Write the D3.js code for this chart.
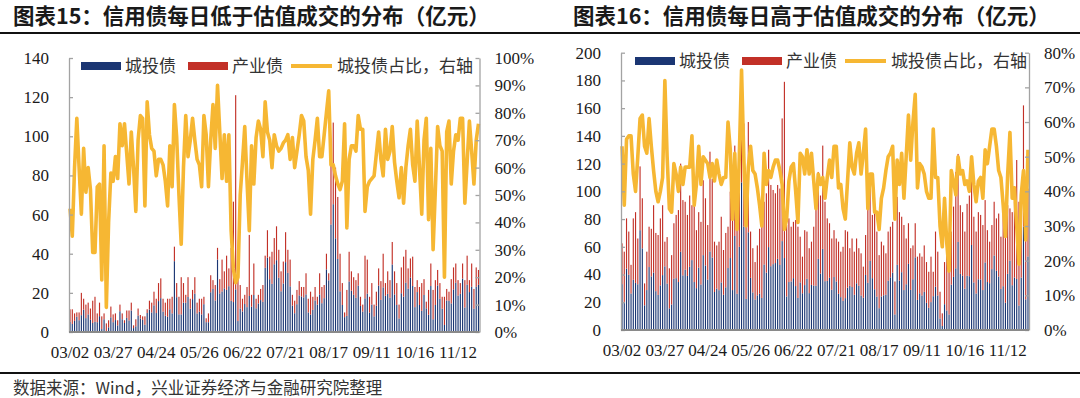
<!DOCTYPE html>
<html>
<head>
<meta charset="utf-8">
<script src="https://cdn.jsdelivr.net/npm/d3@7"></script>
<style>
  body { margin: 0; background: #fff; }
  svg { display: block; }
  .num { font-family: "Liberation Serif", "Times New Roman", serif; font-size: 17px; fill: #1a1a1a; }
  .cjk { font-family: "Noto Sans CJK SC", sans-serif; }
</style>
</head>
<body>
<div id="chart"></div>
<script>
// x labels, one every 19 trading days starting 03/02
var tickLabels = ["03/02", "03/27", "04/24", "05/26", "06/22", "07/21", "08/17", "09/11", "10/16", "11/12"];
var seriesNames = ["城投债", "产业债", "城投债占比，右轴"];

// 图表15: below valuation (亿元, share in %)
var lowUrban = [
  5.2,4.1,5.7,7.8,6,8.6,11.4,7.1,9,6.2,
  4.6,5.2,5,8.1,1.5,6.5,0.4,2.4,7.5,5,
  6.1,3.4,10.6,6.5,4.6,7.2,5.9,11,2,2.9,
  8.4,6.9,6.2,3.7,9.7,11.5,10,13.6,9.7,15.8,
  17.3,10.4,8.3,7.8,11.6,9.5,36.2,17.8,9,9,
  15,15,17.9,11.9,16.8,19.6,9.5,10.4,9,14.2,
  5,5,20.3,22,16.1,37,19.7,20.7,22.3,21.5,
  23.4,15.9,15.3,21.8,5.6,12,10.5,14.3,12.7,18.4,
  12.9,18.9,12.1,14.6,16.3,15.4,32.8,38,27,24.6,
  34.6,36.7,27.7,20.8,24.8,35.7,30.2,23.3,13.5,9.6,
  14.2,18.7,18.2,17.7,19.2,10,8.9,11.3,16.1,14,
  19.2,14.7,17.3,32,26.4,54.9,65.3,47.9,37.3,20.8,
  13.8,7.6,8.2,25.8,21.1,19,17.5,23.7,13.3,10.4,
  17.2,19.6,9.9,14,8,13.4,23.7,16.4,22.8,18.5,
  19.5,17.5,34.5,19.2,13.8,6.9,19.8,18.1,25.2,22.1,
  27.8,23.5,12.7,20.4,13.8,10.8,18.9,12.1,8.8,23.5,
  6.5,13.8,23.8,17,11.9,3.6,16.1,15.9,14.6,21.8,
  25.2,18.6,19.5,27.3,12.5,24.2,20.4,23.1,11.9,23.1,
  24.1];
var lowIndustry = [
  6.4,7.5,3.8,2.2,4,11.4,5.6,6.9,6,5.8,
  11.4,12.8,4.5,6.9,6.5,3,4,3.6,5.5,4,
  3.4,2.6,3.4,3,1.4,3.8,5.1,4,1.4,3.6,
  3.6,1.8,1.8,4.3,1.9,4.5,5,7,7.3,9.2,
  10.1,6.6,6.7,9.2,5.4,8.5,7.4,7.2,9,19,
  10,4,10.1,5.1,4.7,8.4,5.5,6.6,8,3.8,
  2,4.5,8.7,4.5,7.9,6,7.3,16.3,8.7,17.5,
  9.1,27.1,51.3,99.2,22.4,12,6.5,4.7,10.3,31.2,
  6.1,16.1,4.9,4.4,5.7,8.6,6.2,14,11.5,16.4,
  13.4,17.3,14.3,10.2,11.2,15.3,11.8,13.7,5.5,6.4,
  7.3,7.3,4.8,5.3,10.8,7,11.7,6.7,6.9,4,
  10.8,8.3,6.7,8,3.6,35.1,41.7,36.1,31.7,19.2,
  11.2,2.4,13.3,15.2,9.9,9,9,6.3,4.7,3.6,
  21.8,17.4,8.1,11,6,7.2,8.8,9.6,17.2,6.5,
  11.5,9,11.5,11.8,11.2,7.1,13.2,20.4,16.8,10.4,
  9.8,15,10.3,6.1,9.2,14.2,8.1,3.4,12.7,11.5,
  15,12.7,7.9,8,6.1,14.4,5.9,4.7,12.4,11.2,
  9.8,7.9,5.5,7.7,14,14.8,6.1,11.9,10.1,9.9,
  7.6];
var lowShare = [
  45,35,60,78,60,43,67,51,60,52,
  29,29,53,54,19,68,9,40,58,55,
  64,56,76,68,76,65,54,73,60,44,
  70,79,78,46,84,72,67,66,57,63,
  63,61,55,46,68,53,83,71,50,32,
  60,79,64,70,78,70,63,61,53,79,
  72,53,70,83,67,90,73,56,72,55,
  72,37,23,18,20,50,62,75,55,37,
  68,54,71,77,74,64,84,73,70,60,
  72,68,66,67,69,70,72,63,71,60,
  66,72,79,77,64,59,43,63,70,78,
  64,64,72,80,88,61,61,57,54,52,
  55,76,38,63,68,68,66,79,74,74,
  44,53,55,56,57,65,73,63,57,74,
  63,66,75,62,55,49,60,47,60,68,
  74,61,55,77,60,43,70,78,41,67,
  30,52,75,68,66,20,73,77,54,66,
  72,70,78,78,47,62,77,66,54,70,
  76];

// 图表16: above valuation
var highUrban = [
  33.1,20.3,44.3,39.8,26.3,36.2,34,33,72,58.9,
  17.8,28.8,45.4,38.7,41.4,28,25.3,32.2,39.6,45.9,
  33.5,15.6,18.4,37,37.4,34.6,56.4,39.4,43.5,39,
  45.6,50.4,34.6,30.2,45,32.8,54,46.6,36.3,56.6,
  52.3,27.4,29.9,28.7,34.3,25.4,30.8,44.7,51.9,28.8,
  67.8,26.1,60,106.5,74.5,22.4,70.5,37.6,27.1,22,
  25,26.3,23.1,47.2,41.4,59.8,46,47.5,48.3,51.3,
  46.9,64.1,51.9,24.2,34.6,35,37.4,31.7,23.1,34.3,
  26.5,32.4,36.9,26.6,32.5,32,31.9,51.3,40.7,58.5,
  35.2,35.4,37.7,29,38.2,35,26.1,23.7,21,23,
  30.5,31.9,31,25.4,33.7,31.9,24.9,23.3,39.7,34,
  49.8,37.4,29.4,24.1,15.7,24.2,25,25.4,35.5,38,
  41.3,11.2,47,35.7,41.7,28.8,33,47.7,28.9,36.6,
  52.4,21.7,26.5,24.9,27.5,19.6,16,20.1,24.4,31.2,
  24.9,8.3,2.9,18.6,14.1,11.2,32.7,38.3,44.5,63.5,
  40.5,39.1,29.8,39.1,38.8,61.3,34.3,26.3,36.6,36.5,
  28.8,48.7,34.6,33.8,43.9,53.7,42.7,38.6,29.6,31.6,
  19.7,40.5,50,32.3,37.9,36.8,17.6,37.8,74.5,22.1,
  53];
var highIndustry = [
  29.4,36.2,36.2,31.2,20.7,44.3,51,33,46,36.1,
  15.8,27.7,29.1,34.3,48.6,42,43.2,48.3,50.4,17.8,
  33.5,28.9,35.6,40,45.6,51.9,63.6,54.3,49,44,
  51.4,39.6,61.4,41.8,40,45.2,54,48.4,39.4,72,
  56.7,36.3,31.1,35,47.4,32.3,39.2,29.8,47.9,61.2,
  65.2,63.9,60,35.5,74.5,52.1,79.5,33.4,31.9,27,
  36,46.7,53.9,45.3,57.2,70.2,58.6,53.5,50.3,53.3,
  55.1,88.5,127.1,51.5,45.9,39.5,40.6,47.6,51.4,33,
  26.4,39.6,34.1,32.4,31.2,42.5,59.1,62.7,56.3,74.5,
  57.3,45.1,39.3,37,33.8,31,37.6,32.8,39,49,
  40.5,27.1,35,31.1,32.3,27.1,30.4,22.4,28.8,63,
  60.8,45.6,57.1,46.9,38.3,39.5,36,29.9,35.5,36.5,
  36.7,23.8,49,49.3,40,46.9,33,29.3,30.1,24.4,
  24.6,31.2,28.8,28,33.5,29.4,26,32.8,17.6,39.8,
  31.6,19.3,9.1,30.4,42.4,54.8,38.3,50.7,69.5,63.5,
  49.5,45.9,41.2,51.9,58.2,61.3,47.4,44.7,48.4,46.5,
  46.9,45,37.4,29.9,31.8,38.8,37.8,45.4,37.7,56.1,
  53.3,49.5,37.7,52.7,54.6,85.8,74.9,59.2,87.5,62.9,
  49];
var highShare = [
  53,36,55,56,56,45,40,50,61,62,
  53,51,61,53,46,40,37,40,44,72,
  50,35,34,48,45,40,47,42,47,47,
  47,56,36,42,53,42,50,49,48,44,
  48,43,49,45,42,44,44,60,52,32,
  51,29,50,75,50,30,47,53,46,45,
  41,36,30,51,42,46,44,47,49,49,
  46,42,29,32,43,47,48,40,31,51,
  50,45,52,45,51,43,35,45,42,44,
  38,44,49,44,53,53,41,42,35,32,
  43,54,47,45,51,54,45,51,58,35,
  45,45,34,34,29,38,41,46,50,51,
  53,32,49,42,51,38,50,62,49,60,
  68,41,48,47,45,40,38,38,58,44,
  44,30,24,38,25,17,46,43,39,50,
  45,46,42,43,40,50,42,37,43,44,
  38,52,48,53,58,58,53,46,44,36,
  27,45,57,38,41,30,19,39,46,26,
  52];

var width = 1080, height = 398;
var navy = "#1b3673", red = "#c23027", gold = "#f6b733", axisGray = "#a3a3a3";

var svg = d3.select("#chart").append("svg")
    .attr("width", width)
    .attr("height", height);

svg.append("rect").attr("width", width).attr("height", height).attr("fill", "#fff");

function drawPanel(cfg) {
  var n = cfg.urban.length;
  var rows = d3.range(n).map(function(i) {
    return {i: i, urban: cfg.urban[i], industry: cfg.industry[i], share: cfg.share[i] / 100};
  });

  var x = d3.scaleBand().domain(d3.range(n)).range([cfg.x0, cfg.x1]).paddingInner(0.5).paddingOuter(0.2),
      yL = d3.scaleLinear().domain([0, cfg.yMax]).range([cfg.yBottom, cfg.yTop]),
      yR = d3.scaleLinear().domain([0, cfg.rMax]).range([cfg.yBottom, cfg.yTop]);

  var stacked = d3.stack().keys(["urban", "industry"])(rows);
  var g = svg.append("g");

  g.selectAll("g.layer")
    .data(stacked).enter()
    .append("g")
      .attr("class", "layer")
      .attr("fill", function(d) { return d.key == "urban" ? navy : red; })
    .selectAll("rect")
    .data(function(d) { return d; }).enter()
    .append("rect")
      .attr("x", function(d) { return x(d.data.i); })
      .attr("width", x.bandwidth())
      .attr("y", function(d) { return yL(d[1]); })
      .attr("height", function(d) { return yL(d[0]) - yL(d[1]); });

  var line = d3.line()
    .x(function(d) { return x(d.i) + x.bandwidth() / 2; })
    .y(function(d) { return yR(d.share); });

  g.append("path")
    .datum(rows)
    .attr("d", line)
    .attr("fill", "none")
    .attr("stroke", gold)
    .attr("stroke-width", 3.6)
    .attr("stroke-linejoin", "round");

  // axes, ticks point inward
  var axL = g.append("g")
    .attr("transform", "translate(" + cfg.x0 + ",0)")
    .call(d3.axisLeft(yL).tickValues(d3.range(0, cfg.yMax + 1, cfg.yStep))
      .tickSizeInner(-4).tickSizeOuter(0).tickPadding(20));
  var axR = g.append("g")
    .attr("transform", "translate(" + cfg.x1 + ",0)")
    .call(d3.axisRight(yR).tickValues(d3.range(0, Math.round(cfg.rMax * 10) + 1).map(function(k) { return k / 10; }))
      .tickFormat(d3.format(".0%"))
      .tickSizeInner(-4).tickSizeOuter(0).tickPadding(15));
  [axL, axR].forEach(function(ax) {
    ax.selectAll("path, line").attr("stroke", axisGray).attr("stroke-width", 1.3);
    ax.selectAll("text").attr("class", "num").attr("fill", null)
      .attr("font-family", null).attr("font-size", null);
  });

  g.append("line")
    .attr("x1", cfg.x0).attr("x2", cfg.x1)
    .attr("y1", cfg.yBottom).attr("y2", cfg.yBottom)
    .attr("stroke", "#8a8a8a").attr("stroke-width", 2);

  g.selectAll("text.xlab")
    .data(tickLabels).enter()
    .append("text")
      .attr("class", "num xlab")
      .attr("x", function(d, k) { return x(k * 19) + x.bandwidth() / 2; })
      .attr("y", cfg.yBottom + 20)
      .attr("dy", "0.35em")
      .attr("text-anchor", "middle")
      .text(function(d) { return d; });

  // legend
  var lg = g.append("g").attr("transform", "translate(" + cfg.legendX + "," + cfg.legendY + ")");
  var offs = [0, 107, 210];
  seriesNames.forEach(function(name, k) {
    if (k < 2) {
      lg.append("rect")
        .attr("x", offs[k]).attr("y", -4).attr("width", 40).attr("height", 8)
        .attr("fill", k == 0 ? navy : red);
    } else {
      lg.append("line")
        .attr("x1", offs[k]).attr("x2", offs[k] + 41)
        .attr("stroke", gold).attr("stroke-width", 4);
    }
    lg.append("text")
      .attr("class", "cjk")
      .attr("x", offs[k] + (k < 2 ? 44 : 46))
      .attr("dy", "0.36em")
      .attr("font-size", 17)
      .attr("fill", "#333")
      .text(name);
  });

  svg.append("text")
    .attr("class", "cjk")
    .attr("x", cfg.titleX).attr("y", 16)
    .attr("dy", "0.36em")
    .attr("font-size", 21.5)
    .attr("font-weight", "bold")
    .attr("fill", "#1a1a1a")
    .text(cfg.title);
}

drawPanel({
  urban: lowUrban, industry: lowIndustry, share: lowShare,
  x0: 69, x1: 479.5, yBottom: 332, yTop: 58,
  yMax: 140, yStep: 20, rMax: 1,
  legendX: 81, legendY: 66, titleX: 13,
  title: "图表15：信用债每日低于估值成交的分布（亿元）"
});

drawPanel({
  urban: highUrban, industry: highIndustry, share: highShare,
  x0: 621, x1: 1029, yBottom: 330, yTop: 52.7,
  yMax: 200, yStep: 20, rMax: 0.8,
  legendX: 635, legendY: 61, titleX: 573,
  title: "图表16：信用债每日高于估值成交的分布（亿元）"
});

// frame lines and source
svg.append("line").attr("x1", 0).attr("x2", width).attr("y1", 33).attr("y2", 33)
  .attr("stroke", "#111").attr("stroke-width", 2);
svg.append("line").attr("x1", 0).attr("x2", width).attr("y1", 373).attr("y2", 373)
  .attr("stroke", "#111").attr("stroke-width", 2);
svg.append("text")
  .attr("class", "cjk")
  .attr("x", 13).attr("y", 388)
  .attr("dy", "0.36em")
  .attr("font-size", 16.5)
  .attr("fill", "#333")
  .text("数据来源：Wind，兴业证券经济与金融研究院整理");
</script>
</body>
</html>
